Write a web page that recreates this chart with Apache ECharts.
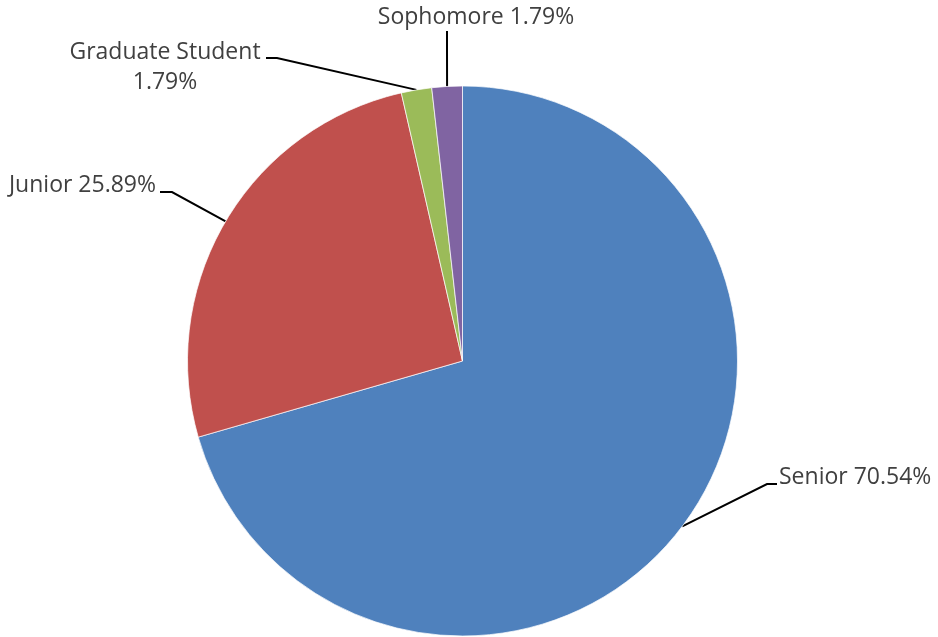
<!DOCTYPE html>
<html>
<head>
<meta charset="utf-8">
<script src="https://cdn.jsdelivr.net/npm/echarts@6/dist/echarts.min.js"></script>
<style>
html,body{margin:0;padding:0;background:#fff;}
#chart{width:938px;height:637px;}
</style>
</head>
<body>
<div id="chart"></div>
<script>
// Data (student counts; percentages shown are computed from them)
var categories = ['Senior', 'Junior', 'Graduate Student', 'Sophomore'];
var counts = [79, 29, 2, 2];
var colors = ['#4F81BD', '#C0504D', '#9BBB59', '#8064A2'];

// Label placement (style only): label anchor, alignment, leader elbow & end
var labelPlacement = [
  { x: 779, y: 477, align: 'left',   elbow: [767, 484], end: [777, 484] },
  { x: 156, y: 185, align: 'right',  elbow: [172, 192], end: [160, 192] },
  { x: 165, y: 67,  align: 'center', elbow: [277, 58],  end: [266, 58] },
  { x: 476, y: 17,  align: 'center', elbow: [447, 50],  end: [447, 31] }
];

var total = counts.reduce(function (a, b) { return a + b; }, 0);

var chart = echarts.init(document.getElementById('chart'), null, { renderer: 'canvas' });

var data = categories.map(function (c, i) {
  return { name: c, value: counts[i], itemStyle: { color: colors[i] } };
});

chart.setOption({
  animation: false,
  backgroundColor: '#ffffff',
  series: [{
    type: 'pie',
    center: [462.5, 361],
    radius: 275,
    startAngle: 90,
    clockwise: true,
    data: data,
    emphasis: { disabled: true },
    itemStyle: { borderColor: 'rgba(255,255,255,0.7)', borderWidth: 1 },
    label: {
      show: true,
      position: 'outside',
      formatter: function (p) {
        var pct = (p.value / total * 100).toFixed(2) + '%';
        return p.name === 'Graduate Student' ? p.name + '\n' + pct : p.name + ' ' + pct;
      },
      color: '#404040',
      fontFamily: 'Open Sans',
      fontSize: 23,
      lineHeight: 30
    },
    labelLine: {
      show: true,
      length: 20,
      length2: 10,
      lineStyle: { color: '#000', width: 2 }
    },
    labelLayout: function (params) {
      var p = labelPlacement[params.dataIndex];
      var anchor = params.labelLinePoints ? params.labelLinePoints[0] : p.elbow;
      return {
        x: p.x,
        y: p.y,
        align: p.align,
        verticalAlign: 'middle',
        labelLinePoints: [anchor, p.elbow, p.end]
      };
    }
  }]
});
</script>
</body>
</html>
